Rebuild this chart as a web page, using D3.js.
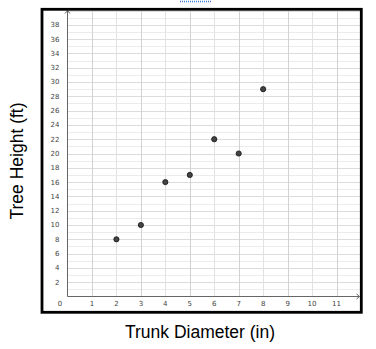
<!DOCTYPE html>
<html>
<head>
<meta charset="utf-8">
<script src="https://cdn.jsdelivr.net/npm/d3@7"></script>
<style>
  body { margin: 0; background: #fff; }
  svg { display: block; }
</style>
</head>
<body>
<div id="chart"></div>
<script>
const WIDTH = 376;
const HEIGHT = 349;

const diameters = [2, 3, 4, 5, 6, 7, 8];
const heights = [8, 10, 16, 17, 22, 20, 29];
const xTicks = [1, 2, 3, 4, 5, 6, 7, 8, 9, 10, 11];
const yTicks = [2, 4, 6, 8, 10, 12, 14, 16, 18, 20, 22, 24, 26, 28, 30, 32, 34, 36, 38];

const svg = d3.select("#chart").append("svg")
  .attr("width", WIDTH)
  .attr("height", HEIGHT);

// plot region (origin at axis crossing)
const x = d3.scaleLinear().domain([0, 12]).range([67.5, 361]);
const y = d3.scaleLinear().domain([0, 40]).range([296.5, 10.5]);

// little blue dotted link mark at the very top
svg.append("line")
  .attr("x1", 180).attr("x2", 211)
  .attr("y1", 1.5).attr("y2", 1.5)
  .attr("stroke", "#3a78d8")
  .attr("stroke-width", 1.5)
  .attr("stroke-dasharray", "1,1");

// grid
const grid = svg.append("g");
grid.selectAll(".hg").data(d3.range(1, 41)).join("line")
  .attr("x1", x(0)).attr("x2", x(12))
  .attr("y1", d => Math.round(y(d)) + 0.5).attr("y2", d => Math.round(y(d)) + 0.5)
  .attr("stroke", d => d % 2 === 0 ? "#dcdcdc" : "#ececec")
  .attr("stroke-width", 1);
grid.selectAll(".vg").data(d3.range(1, 12)).join("line")
  .attr("x1", d => Math.round(x(d)) + 0.5).attr("x2", d => Math.round(x(d)) + 0.5)
  .attr("y1", y(0)).attr("y2", y(40))
  .attr("stroke", d => d % 2 === 1 ? "#d2d2d2" : "#e2e2e2")
  .attr("stroke-width", 1);

// axes lines with arrowheads
const axisColor = "#666";
svg.append("line")
  .attr("x1", x(0)).attr("x2", x(0))
  .attr("y1", y(0)).attr("y2", 10.5)
  .attr("stroke", axisColor);
svg.append("path")
  .attr("d", `M${x(0) - 2.5},${13.5} L${x(0)},${10.5} L${x(0) + 2.5},${13.5}`)
  .attr("fill", "none").attr("stroke", axisColor);
svg.append("line")
  .attr("x1", x(0)).attr("x2", 359.5)
  .attr("y1", y(0)).attr("y2", y(0))
  .attr("stroke", axisColor);
svg.append("path")
  .attr("d", `M${356.5},${y(0) - 2.5} L${359.5},${y(0)} L${356.5},${y(0) + 2.5}`)
  .attr("fill", "none").attr("stroke", axisColor);

// tick labels
const labelFont = "'DejaVu Sans', Verdana, sans-serif";
svg.append("g").selectAll("text").data(yTicks).join("text")
  .attr("x", 59.5)
  .attr("y", d => y(d))
  .attr("dy", "0.35em")
  .attr("text-anchor", "end")
  .attr("font-family", labelFont)
  .attr("font-size", 7)
  .attr("fill", "#444")
  .text(d => d);
svg.append("g").selectAll("text").data(xTicks).join("text")
  .attr("x", d => x(d))
  .attr("y", 306)
  .attr("text-anchor", "middle")
  .attr("font-family", labelFont)
  .attr("font-size", 7)
  .attr("fill", "#444")
  .text(d => d);
svg.append("text")
  .attr("x", 60).attr("y", 306)
  .attr("text-anchor", "middle")
  .attr("font-family", labelFont)
  .attr("font-size", 7)
  .attr("fill", "#444")
  .text("0");

// points
svg.append("g").selectAll("circle").data(diameters).join("circle")
  .attr("cx", d => x(d))
  .attr("cy", (d, i) => y(heights[i]))
  .attr("r", 2.6)
  .attr("fill", "#444")
  .attr("stroke", "#111")
  .attr("stroke-width", 0.8);

// frame
svg.append("rect")
  .attr("x", 42).attr("y", 9.3)
  .attr("width", 319.3).attr("height", 303)
  .attr("fill", "none")
  .attr("stroke", "#000")
  .attr("stroke-width", 2.8);

// axis titles
svg.append("text")
  .attr("x", 200).attr("y", 338)
  .attr("text-anchor", "middle")
  .attr("font-family", "'Liberation Sans', Arial, sans-serif")
  .attr("font-size", 17.5)
  .attr("fill", "#000")
  .text("Trunk Diameter (in)");
svg.append("text")
  .attr("transform", "translate(23,161) rotate(-90)")
  .attr("text-anchor", "middle")
  .attr("font-family", "'Liberation Sans', Arial, sans-serif")
  .attr("font-size", 17.5)
  .attr("fill", "#000")
  .text("Tree Height (ft)");
</script>
</body>
</html>
